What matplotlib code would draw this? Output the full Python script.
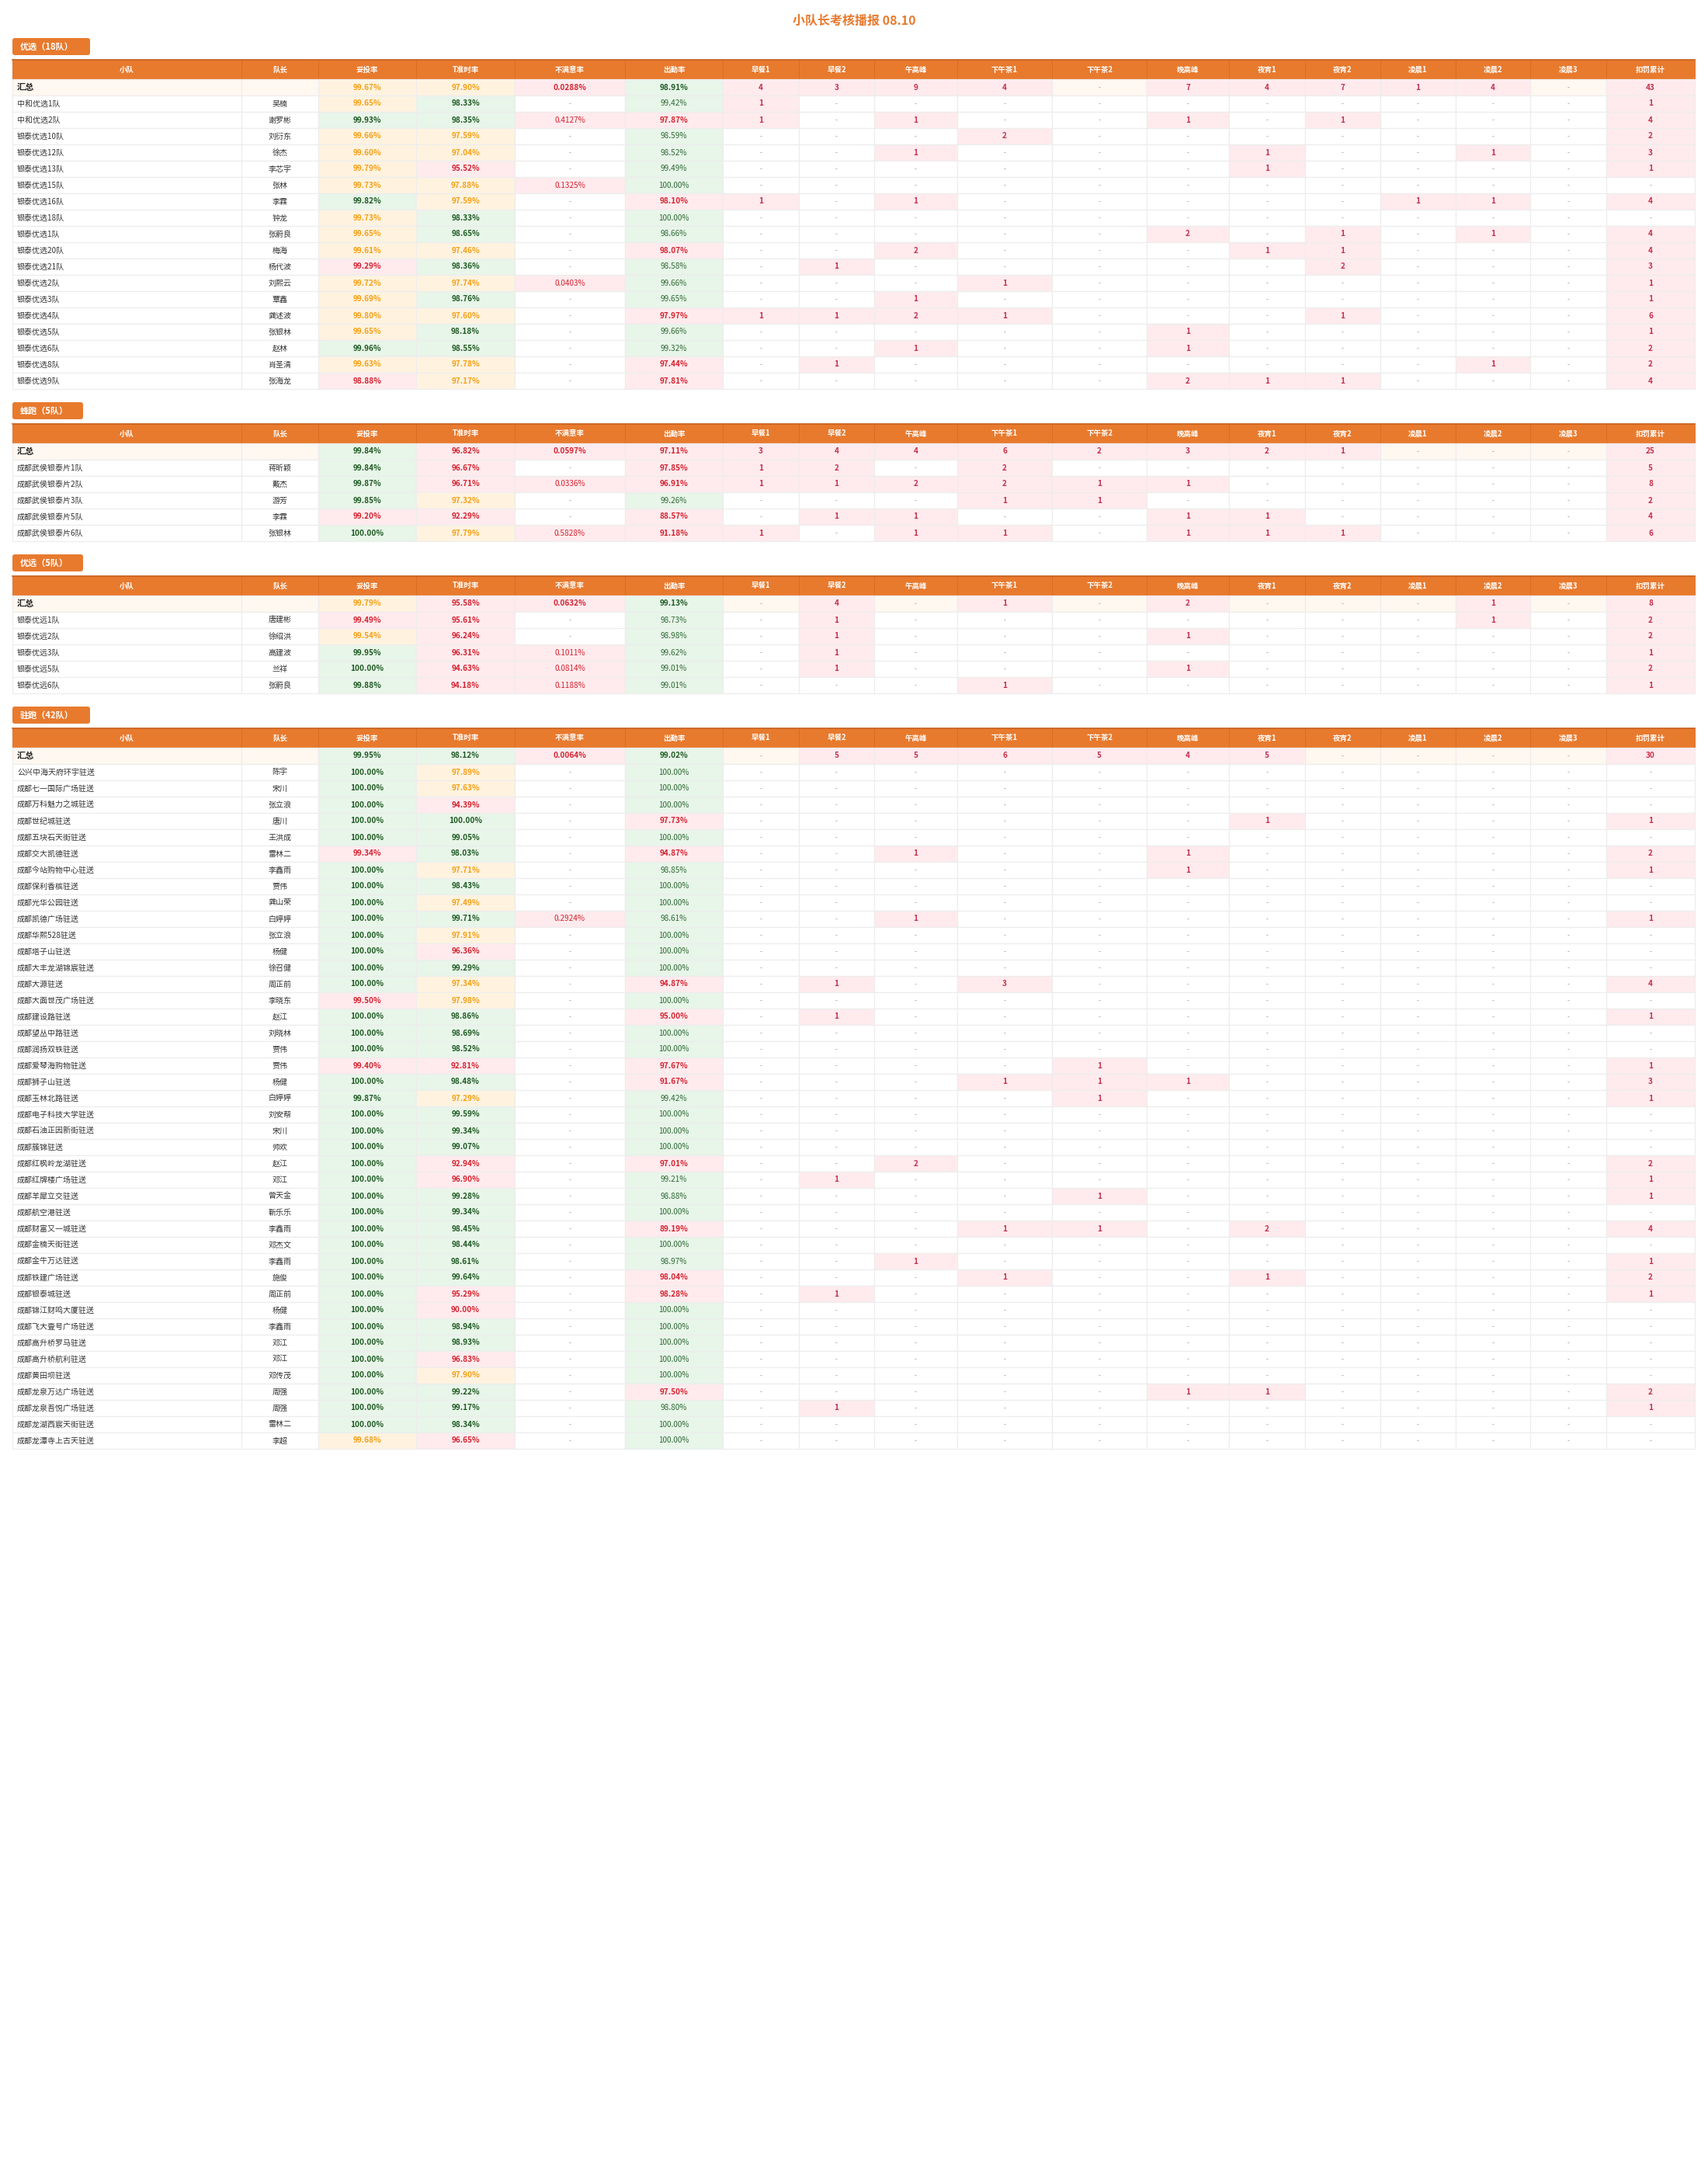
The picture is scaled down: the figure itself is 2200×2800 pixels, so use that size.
import matplotlib
matplotlib.use('Agg')
import matplotlib.pyplot as plt
from matplotlib.patches import Rectangle, FancyBboxPatch

plt.rcParams['font.family'] = ['Noto Sans CJK SC', 'DejaVu Sans']

title = '小队长考核播报 08.10'
columns = ['小队', '队长', '妥投率', 'T准时率', '不满意率', '出勤率',
           '早餐1', '早餐2', '午高峰', '下午茶1', '下午茶2', '晚高峰',
           '夜宵1', '夜宵2', '凌晨1', '凌晨2', '凌晨3', '扣罚累计']

# ---- 优选 ----
yx_label = '优选（18队）'
yx_teams = ['中和优选1队', '中和优选2队', '银泰优选10队', '银泰优选12队', '银泰优选13队',
            '银泰优选15队', '银泰优选16队', '银泰优选18队', '银泰优选1队', '银泰优选20队',
            '银泰优选21队', '银泰优选2队', '银泰优选3队', '银泰优选4队', '银泰优选5队',
            '银泰优选6队', '银泰优选8队', '银泰优选9队']
yx_leaders = ['吴楠', '谢罗彬', '刘衍东', '徐杰', '李芯宇', '张林', '李霖', '钟龙', '张蔚良',
              '梅海', '杨代波', '刘熙云', '覃鑫', '龚述波', '张银林', '赵林', '肖圣清', '张海龙']
yx_delivery = [99.65, 99.93, 99.66, 99.60, 99.79, 99.73, 99.82, 99.73, 99.65,
               99.61, 99.29, 99.72, 99.69, 99.80, 99.65, 99.96, 99.63, 98.88]
yx_ontime = [98.33, 98.35, 97.59, 97.04, 95.52, 97.88, 97.59, 98.33, 98.65,
             97.46, 98.36, 97.74, 98.76, 97.60, 98.18, 98.55, 97.78, 97.17]
yx_complaint = [0, 0.4127, 0, 0, 0, 0.1325, 0, 0, 0, 0, 0, 0.0403, 0, 0, 0, 0, 0, 0]
yx_attend = [99.42, 97.87, 98.59, 98.52, 99.49, 100.00, 98.10, 100.00, 98.66,
             98.07, 98.58, 99.66, 99.65, 97.97, 99.66, 99.32, 97.44, 97.81]
yx_counts = [
    [1, 0, 0, 0, 0, 0, 0, 0, 0, 0, 0],
    [1, 0, 1, 0, 0, 1, 0, 1, 0, 0, 0],
    [0, 0, 0, 2, 0, 0, 0, 0, 0, 0, 0],
    [0, 0, 1, 0, 0, 0, 1, 0, 0, 1, 0],
    [0, 0, 0, 0, 0, 0, 1, 0, 0, 0, 0],
    [0, 0, 0, 0, 0, 0, 0, 0, 0, 0, 0],
    [1, 0, 1, 0, 0, 0, 0, 0, 1, 1, 0],
    [0, 0, 0, 0, 0, 0, 0, 0, 0, 0, 0],
    [0, 0, 0, 0, 0, 2, 0, 1, 0, 1, 0],
    [0, 0, 2, 0, 0, 0, 1, 1, 0, 0, 0],
    [0, 1, 0, 0, 0, 0, 0, 2, 0, 0, 0],
    [0, 0, 0, 1, 0, 0, 0, 0, 0, 0, 0],
    [0, 0, 1, 0, 0, 0, 0, 0, 0, 0, 0],
    [1, 1, 2, 1, 0, 0, 0, 1, 0, 0, 0],
    [0, 0, 0, 0, 0, 1, 0, 0, 0, 0, 0],
    [0, 0, 1, 0, 0, 1, 0, 0, 0, 0, 0],
    [0, 1, 0, 0, 0, 0, 0, 0, 0, 1, 0],
    [0, 0, 0, 0, 0, 2, 1, 1, 0, 0, 0],
]
yx_summary = [99.67, 97.90, 0.0288, 98.91]

# ---- 蜂跑 ----
fp_label = '蜂跑（5队）'
fp_teams = ['成都武侯银泰片1队', '成都武侯银泰片2队', '成都武侯银泰片3队',
            '成都武侯银泰片5队', '成都武侯银泰片6队']
fp_leaders = ['蒋昕颖', '戴杰', '游芳', '李霖', '张银林']
fp_delivery = [99.84, 99.87, 99.85, 99.20, 100.00]
fp_ontime = [96.67, 96.71, 97.32, 92.29, 97.79]
fp_complaint = [0, 0.0336, 0, 0, 0.5828]
fp_attend = [97.85, 96.91, 99.26, 88.57, 91.18]
fp_counts = [
    [1, 2, 0, 2, 0, 0, 0, 0, 0, 0, 0],
    [1, 1, 2, 2, 1, 1, 0, 0, 0, 0, 0],
    [0, 0, 0, 1, 1, 0, 0, 0, 0, 0, 0],
    [0, 1, 1, 0, 0, 1, 1, 0, 0, 0, 0],
    [1, 0, 1, 1, 0, 1, 1, 1, 0, 0, 0],
]
fp_summary = [99.84, 96.82, 0.0597, 97.11]

# ---- 优远 ----
yy_label = '优远（5队）'
yy_teams = ['银泰优远1队', '银泰优远2队', '银泰优远3队', '银泰优远5队', '银泰优远6队']
yy_leaders = ['唐建彬', '徐绍洪', '高建波', '兰祥', '张蔚良']
yy_delivery = [99.49, 99.54, 99.95, 100.00, 99.88]
yy_ontime = [95.61, 96.24, 96.31, 94.63, 94.18]
yy_complaint = [0, 0, 0.1011, 0.0814, 0.1188]
yy_attend = [98.73, 98.98, 99.62, 99.01, 99.01]
yy_counts = [
    [0, 1, 0, 0, 0, 0, 0, 0, 0, 1, 0],
    [0, 1, 0, 0, 0, 1, 0, 0, 0, 0, 0],
    [0, 1, 0, 0, 0, 0, 0, 0, 0, 0, 0],
    [0, 1, 0, 0, 0, 1, 0, 0, 0, 0, 0],
    [0, 0, 0, 1, 0, 0, 0, 0, 0, 0, 0],
]
yy_summary = [99.79, 95.58, 0.0632, 99.13]

# ---- 驻跑 ----
zp_label = '驻跑（42队）'
zp_teams = ['公兴中海天府环宇驻送', '成都七一国际广场驻送', '成都万科魅力之城驻送', '成都世纪城驻送',
            '成都五块石天街驻送', '成都交大凯德驻送', '成都今站购物中心驻送', '成都保利香槟驻送',
            '成都光华公园驻送', '成都凯德广场驻送', '成都华熙528驻送', '成都塔子山驻送',
            '成都大丰龙湖锦宸驻送', '成都大源驻送', '成都大面世茂广场驻送', '成都建设路驻送',
            '成都望丛中路驻送', '成都润扬双铁驻送', '成都爱琴海购物驻送', '成都狮子山驻送',
            '成都玉林北路驻送', '成都电子科技大学驻送', '成都石油正因新街驻送', '成都簇锦驻送',
            '成都红枫岭龙湖驻送', '成都红牌楼广场驻送', '成都羊犀立交驻送', '成都航空港驻送',
            '成都财富又一城驻送', '成都金楠天街驻送', '成都金牛万达驻送', '成都铁建广场驻送',
            '成都银泰城驻送', '成都锦江财鸣大厦驻送', '成都飞大壹号广场驻送', '成都高升桥罗马驻送',
            '成都高升桥航利驻送', '成都黄田坝驻送', '成都龙泉万达广场驻送', '成都龙泉吾悦广场驻送',
            '成都龙湖西宸天街驻送', '成都龙潭寺上古天驻送']
zp_leaders = ['陈宇', '宋川', '张立浪', '唐川', '王洪成', '雷林二', '李鑫雨', '贾伟',
              '龚山荣', '白婷婷', '张立浪', '杨健', '徐召健', '周正前', '李晓东', '赵江',
              '刘晓林', '贾伟', '贾伟', '杨健', '白婷婷', '刘安帮', '宋川', '帅欢',
              '赵江', '邓江', '曾天金', '靳乐乐', '李鑫雨', '邓杰文', '李鑫雨', '施俊',
              '周正前', '杨健', '李鑫雨', '邓江', '邓江', '邓传茂', '周强', '周强',
              '雷林二', '李超']
zp_delivery = [100.00, 100.00, 100.00, 100.00, 100.00, 99.34, 100.00, 100.00, 100.00, 100.00,
               100.00, 100.00, 100.00, 100.00, 99.50, 100.00, 100.00, 100.00, 99.40, 100.00,
               99.87, 100.00, 100.00, 100.00, 100.00, 100.00, 100.00, 100.00, 100.00, 100.00,
               100.00, 100.00, 100.00, 100.00, 100.00, 100.00, 100.00, 100.00, 100.00, 100.00,
               100.00, 99.68]
zp_ontime = [97.89, 97.63, 94.39, 100.00, 99.05, 98.03, 97.71, 98.43, 97.49, 99.71,
             97.91, 96.36, 99.29, 97.34, 97.98, 98.86, 98.69, 98.52, 92.81, 98.48,
             97.29, 99.59, 99.34, 99.07, 92.94, 96.90, 99.28, 99.34, 98.45, 98.44,
             98.61, 99.64, 95.29, 90.00, 98.94, 98.93, 96.83, 97.90, 99.22, 99.17,
             98.34, 96.65]
zp_complaint = [0, 0, 0, 0, 0, 0, 0, 0, 0, 0.2924, 0, 0, 0, 0, 0, 0, 0, 0, 0, 0, 0,
                0, 0, 0, 0, 0, 0, 0, 0, 0, 0, 0, 0, 0, 0, 0, 0, 0, 0, 0, 0, 0]
zp_attend = [100.00, 100.00, 100.00, 97.73, 100.00, 94.87, 98.85, 100.00, 100.00, 98.61,
             100.00, 100.00, 100.00, 94.87, 100.00, 95.00, 100.00, 100.00, 97.67, 91.67,
             99.42, 100.00, 100.00, 100.00, 97.01, 99.21, 98.88, 100.00, 89.19, 100.00,
             98.97, 98.04, 98.28, 100.00, 100.00, 100.00, 100.00, 100.00, 97.50, 98.80,
             100.00, 100.00]
zp_counts = [
    [0, 0, 0, 0, 0, 0, 0, 0, 0, 0, 0],
    [0, 0, 0, 0, 0, 0, 0, 0, 0, 0, 0],
    [0, 0, 0, 0, 0, 0, 0, 0, 0, 0, 0],
    [0, 0, 0, 0, 0, 0, 1, 0, 0, 0, 0],
    [0, 0, 0, 0, 0, 0, 0, 0, 0, 0, 0],
    [0, 0, 1, 0, 0, 1, 0, 0, 0, 0, 0],
    [0, 0, 0, 0, 0, 1, 0, 0, 0, 0, 0],
    [0, 0, 0, 0, 0, 0, 0, 0, 0, 0, 0],
    [0, 0, 0, 0, 0, 0, 0, 0, 0, 0, 0],
    [0, 0, 1, 0, 0, 0, 0, 0, 0, 0, 0],
    [0, 0, 0, 0, 0, 0, 0, 0, 0, 0, 0],
    [0, 0, 0, 0, 0, 0, 0, 0, 0, 0, 0],
    [0, 0, 0, 0, 0, 0, 0, 0, 0, 0, 0],
    [0, 1, 0, 3, 0, 0, 0, 0, 0, 0, 0],
    [0, 0, 0, 0, 0, 0, 0, 0, 0, 0, 0],
    [0, 1, 0, 0, 0, 0, 0, 0, 0, 0, 0],
    [0, 0, 0, 0, 0, 0, 0, 0, 0, 0, 0],
    [0, 0, 0, 0, 0, 0, 0, 0, 0, 0, 0],
    [0, 0, 0, 0, 1, 0, 0, 0, 0, 0, 0],
    [0, 0, 0, 1, 1, 1, 0, 0, 0, 0, 0],
    [0, 0, 0, 0, 1, 0, 0, 0, 0, 0, 0],
    [0, 0, 0, 0, 0, 0, 0, 0, 0, 0, 0],
    [0, 0, 0, 0, 0, 0, 0, 0, 0, 0, 0],
    [0, 0, 0, 0, 0, 0, 0, 0, 0, 0, 0],
    [0, 0, 2, 0, 0, 0, 0, 0, 0, 0, 0],
    [0, 1, 0, 0, 0, 0, 0, 0, 0, 0, 0],
    [0, 0, 0, 0, 1, 0, 0, 0, 0, 0, 0],
    [0, 0, 0, 0, 0, 0, 0, 0, 0, 0, 0],
    [0, 0, 0, 1, 1, 0, 2, 0, 0, 0, 0],
    [0, 0, 0, 0, 0, 0, 0, 0, 0, 0, 0],
    [0, 0, 1, 0, 0, 0, 0, 0, 0, 0, 0],
    [0, 0, 0, 1, 0, 0, 1, 0, 0, 0, 0],
    [0, 1, 0, 0, 0, 0, 0, 0, 0, 0, 0],
    [0, 0, 0, 0, 0, 0, 0, 0, 0, 0, 0],
    [0, 0, 0, 0, 0, 0, 0, 0, 0, 0, 0],
    [0, 0, 0, 0, 0, 0, 0, 0, 0, 0, 0],
    [0, 0, 0, 0, 0, 0, 0, 0, 0, 0, 0],
    [0, 0, 0, 0, 0, 0, 0, 0, 0, 0, 0],
    [0, 0, 0, 0, 0, 1, 1, 0, 0, 0, 0],
    [0, 1, 0, 0, 0, 0, 0, 0, 0, 0, 0],
    [0, 0, 0, 0, 0, 0, 0, 0, 0, 0, 0],
    [0, 0, 0, 0, 0, 0, 0, 0, 0, 0, 0],
]
zp_summary = [99.95, 98.12, 0.0064, 99.02]

sections = [
    (yx_label, yx_teams, yx_leaders, yx_delivery, yx_ontime, yx_complaint, yx_attend, yx_counts, yx_summary),
    (fp_label, fp_teams, fp_leaders, fp_delivery, fp_ontime, fp_complaint, fp_attend, fp_counts, fp_summary),
    (yy_label, yy_teams, yy_leaders, yy_delivery, yy_ontime, yy_complaint, yy_attend, yy_counts, yy_summary),
    (zp_label, zp_teams, zp_leaders, zp_delivery, zp_ontime, zp_complaint, zp_attend, zp_counts, zp_summary),
]

# colours
ORANGE = '#E87A2E'
ORANGE_EDGE = '#D86A22'
GRID = '#EDEDED'
BG_SUM = '#FFF8F0'
BG_O, FG_O = '#FFF3E0', '#F5A016'
BG_G, FG_G = '#E8F5E9', '#1E5A22'
BG_R, FG_R = '#FFEBEE', '#D3232F'
FG_G_LIGHT = '#2F6B35'
FG_CNT = '#C62F4A'
FG_TXT = '#333333'
FG_DASH = '#999999'

# layout (pixels)
col_w = [295, 99, 126, 127, 142, 126, 98, 97, 107, 122, 122, 106, 98, 97, 97, 96, 98, 114]
left = 16
col_x = [left]
for w in col_w:
    col_x.append(col_x[-1] + w)
header_h = 25
row_h = 21
fs = 7.2

fig = plt.figure(figsize=(22, 28), dpi=100)
ax = fig.add_axes([0, 0, 1, 1])
ax.set_xlim(0, 2200)
ax.set_ylim(2800, 0)
ax.axis('off')

ax.text(1100, 27, title, ha='center', va='center', fontsize=11.5,
        fontweight='bold', color=ORANGE)


def cell(ci, y, h, bg, text, color, bold=False, size=fs, align='center'):
    x = col_x[ci]
    w = col_w[ci]
    ax.add_patch(Rectangle((x, y), w, h, facecolor=bg, edgecolor=GRID, lw=0.9))
    if align == 'left':
        ax.text(x + 6, y + h / 2, text, ha='left', va='center', fontsize=size,
                color=color, fontweight='bold' if bold else 'normal')
    else:
        ax.text(x + w / 2, y + h / 2, text, ha='center', va='center', fontsize=size,
                color=color, fontweight='bold' if bold else 'normal')


def rate_style(kind, v):
    if kind == 'delivery':
        if v > 99.8:
            return BG_G, FG_G
        if v > 99.5:
            return BG_O, FG_O
        return BG_R, FG_R
    if kind == 'ontime':
        if v >= 98:
            return BG_G, FG_G
        if v >= 97:
            return BG_O, FG_O
        return BG_R, FG_R
    # attend
    if v >= 98.5:
        return BG_G, FG_G
    return BG_R, FG_R


def draw_row(y, name, leader, d, t, c, a, counts, is_sum=False):
    base = BG_SUM if is_sum else 'white'
    cell(0, y, row_h, base, name, '#222222' if is_sum else FG_TXT,
         bold=is_sum, size=8 if is_sum else fs, align='left')
    cell(1, y, row_h, base, leader, FG_TXT)
    bg, fg = rate_style('delivery', d)
    cell(2, y, row_h, bg, f'{d:.2f}%', fg, bold=True)
    bg, fg = rate_style('ontime', t)
    cell(3, y, row_h, bg, f'{t:.2f}%', fg, bold=True)
    if c > 0:
        cell(4, y, row_h, BG_R, f'{c:.4f}%', FG_R, bold=is_sum)
    else:
        cell(4, y, row_h, 'white', '-', FG_DASH, size=6)
    bg, fg = rate_style('attend', a)
    if fg == FG_G and not is_sum:
        fg = FG_G_LIGHT
    cell(5, y, row_h, bg, f'{a:.2f}%', fg, bold=(is_sum or fg == FG_R))
    vals = list(counts) + [sum(counts)]
    for k, v in enumerate(vals):
        ci = 6 + k
        if v:
            cell(ci, y, row_h, BG_R, str(v), FG_CNT, bold=True)
        else:
            cell(ci, y, row_h, base, '-', FG_DASH, size=6)


y = 49
for label, teams, leaders, deliv, ontime, compl, attend, counts, summ in sections:
    # section badge
    bw = 100 if len(teams) > 9 else 91
    ax.add_patch(FancyBboxPatch((left, y), bw, 22, boxstyle='round,pad=0,rounding_size=3',
                                facecolor=ORANGE, edgecolor='none'))
    ax.text(left + 10, y + 11, label, ha='left', va='center', fontsize=8,
            fontweight='bold', color='white')
    y += 28
    # header
    for ci, name in enumerate(columns):
        ax.add_patch(Rectangle((col_x[ci], y), col_w[ci], header_h, facecolor=ORANGE,
                               edgecolor=ORANGE_EDGE, lw=0.6))
        ax.text(col_x[ci] + col_w[ci] / 2, y + header_h / 2, name, ha='center', va='center',
                fontsize=6.8, fontweight='bold', color='white')
    ax.plot([col_x[0], col_x[-1]], [y, y], color='#C85E1A', lw=1.2)
    y += header_h
    # summary row
    sum_counts = [sum(r[k] for r in counts) for k in range(len(counts[0]))]
    draw_row(y, '汇总', '', summ[0], summ[1], summ[2], summ[3], sum_counts, is_sum=True)
    y += row_h
    for i in range(len(teams)):
        draw_row(y, teams[i], leaders[i], deliv[i], ontime[i], compl[i], attend[i], counts[i])
        y += row_h
    y += 17

fig.savefig('out.png', dpi=100, facecolor='white')
